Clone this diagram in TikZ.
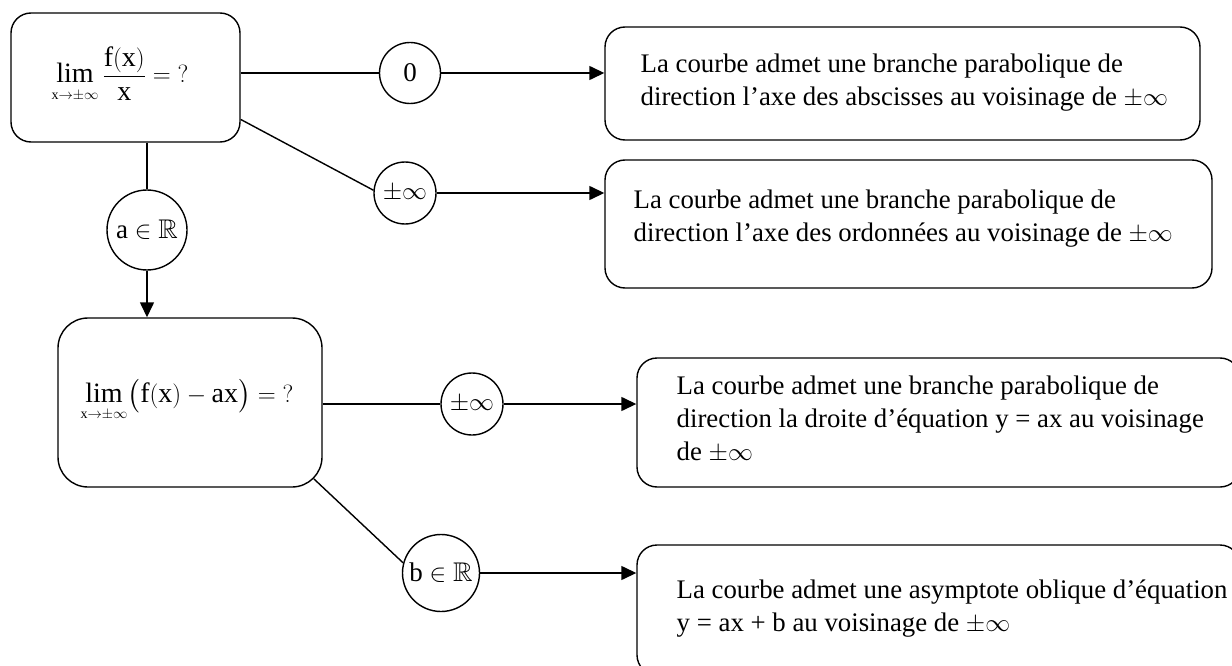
\documentclass[tikz,border=0pt]{standalone}
\usepackage{amsmath,amssymb}
\usepackage{fontspec}
\setmainfont{Liberation Serif}
\usetikzlibrary{arrows.meta,calc}
\newcommand\pminf{{\fontsize{23}{33}\selectfont$\pm\infty$}}
\begin{document}
\begin{tikzpicture}[x=1pt,y=-1pt,line width=1.4pt,
  box/.style={draw,rounded corners=20pt,inner sep=0pt},
  circ/.style={draw,circle,inner sep=0pt,font=\fontsize{27}{33}\selectfont},
  txt/.style={inner sep=0pt,anchor=base west,font=\fontsize{26.8}{33}\selectfont},
  mth/.style={inner sep=0pt,anchor=base,font=\fontsize{28}{33}\selectfont},
  arr/.style={-{Triangle[length=15pt,width=14pt]}}]
\useasboundingbox (0,0) rectangle (1232,666);
\clip (0,0) rectangle (1232,666);
% boxes
\node[box,minimum width=229pt,minimum height=129pt] (A) at (125.5,77.5) {};
\node[box,minimum width=595pt,minimum height=113pt] (B1) at (902.5,83.5) {};
\node[box,minimum width=607pt,minimum height=128pt] (B2) at (908.5,224) {};
\node[box,rounded corners=30pt,minimum width=264pt,minimum height=169pt] (C) at (190,402.5) {};
\node[box,minimum width=603pt,minimum height=129pt] (D1) at (938.5,422.5) {};
\node[box,minimum width=603pt,minimum height=130pt] (D2) at (938.5,610) {};
% circles
\node[circ,minimum size=61pt] (c0) at (410,73) {0};
\node[circ,minimum size=62pt] (c1) at (405,193) {\pminf};
\node[circ,minimum size=80pt] (c2) at (147,230) {$\mathrm{a}\in\mathbb{R}$};
\node[circ,minimum size=62pt] (c4) at (472,404) {\pminf};
\node[circ,minimum size=77pt] (c3) at (441,573) {$\mathrm{b}\in\mathbb{R}$};
% math
\node[mth] (mA) at (120,83) {$\displaystyle\lim_{\scriptscriptstyle\mathrm{x}\to\pm\infty}\frac{\mathrm{f(x)}}{\mathrm{x}}=\mathrm{?}$};
\node[mth] (mC) at (187,402) {$\displaystyle\lim_{\scriptscriptstyle\mathrm{x}\to\pm\infty}\bigl(\mathrm{f(x)}-\mathrm{ax}\bigr)=\mathrm{?}$};
% texts
\node[txt] (t1) at (640,73) {\parbox[t]{580pt}{\raggedright La courbe admet une branche parabolique de\\direction l’axe des abscisses au voisinage de \pminf}};
\node[txt] (t2) at (633,208) {\parbox[t]{580pt}{\raggedright La courbe admet une branche parabolique de\\direction l’axe des ordonnées au voisinage de \pminf}};
\node[txt] (t3) at (676,394) {\parbox[t]{560pt}{\raggedright La courbe admet une branche parabolique de\\direction la droite d’équation y = ax au voisinage\\de \pminf}};
\node[txt] (t4) at (676,598) {\parbox[t]{560pt}{\raggedright La courbe admet une asymptote oblique d’équation\\y = ax + b au voisinage de \pminf}};
% connectors
\coordinate (Ccorner) at ($(C.south east)+(-8.8,-8.8)$);
\draw (c0.west -| A.east) -- (c0.west);
\draw[arr] (c0.east) -- (c0.east -| B1.west);
\draw (A.-20) -- (c1.175);
\draw[arr] (c1.east) -- (c1.east -| B2.west);
\draw (c2.north |- A.south) -- (c2.north);
\draw[arr] (c2.south) -- (c2.south |- C.north);
\draw (c4.west -| C.east) -- (c4.west);
\draw[arr] (c4.east) -- (c4.east -| D1.west);
\draw (Ccorner) -- (c3.165);
\draw[arr] (c3.east) -- (c3.east -| D2.west);
\end{tikzpicture}
\end{document}
